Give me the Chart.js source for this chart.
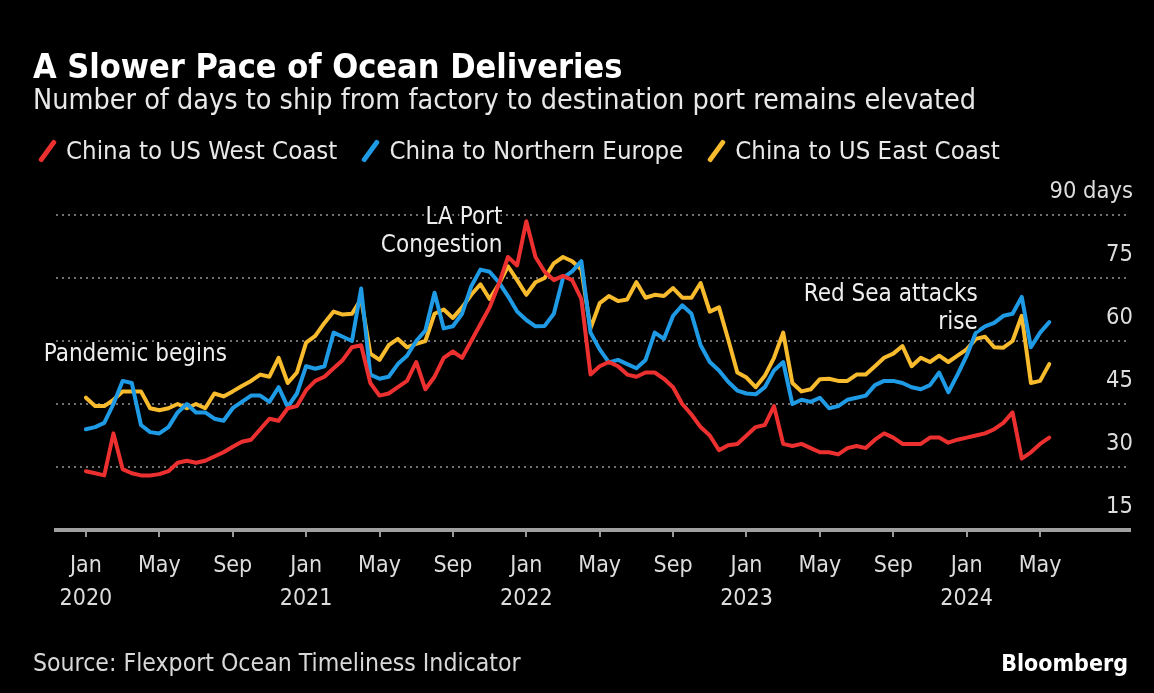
<!DOCTYPE html>
<html>
<head>
<meta charset="utf-8">
<script src="https://cdn.jsdelivr.net/npm/chart.js@4.4.1/dist/chart.umd.min.js"></script>
<style>
  html, body { margin: 0; padding: 0; background: #000; }
  #wrap { position: relative; width: 1154px; height: 693px; background: #000; overflow: hidden;
          font-family: "DejaVu Sans Condensed", "DejaVu Sans", sans-serif; font-stretch: semi-condensed; color: #fff; }
  #c { position: absolute; left: 0; top: 0; }
  .t { position: absolute; white-space: nowrap; line-height: 1; }
  #title { left: 33px; top: 49px; font-size: 34px; font-weight: bold; color: #fff; }
  #subtitle { left: 33px; top: 86px; font-size: 28.5px; color: #e8e8e8; }
  #legend { left: 33px; top: 138px; font-size: 25.6px; color: #e8e8e8; display: flex; align-items: center; }
  .item { display: flex; align-items: center; margin-right: 19px; }
  .sw { display: inline-block; width: 5px; height: 26px; border-radius: 2px; transform: rotate(36deg); margin: 0 16px 0 12px; }
  #source { left: 33px; top: 651px; font-size: 24.6px; color: #d8d8d8; }
  #brand { right: 26px; top: 652px; font-size: 23px; font-weight: bold; color: #fff; }
</style>
</head>
<body>
<div id="wrap">
  <canvas id="c" width="1154" height="693"></canvas>
  <div class="t" id="title">A Slower Pace of Ocean Deliveries</div>
  <div class="t" id="subtitle">Number of days to ship from factory to destination port remains elevated</div>
  <div class="t" id="legend"></div>
  <div class="t" id="source">Source: Flexport Ocean Timeliness Indicator</div>
  <div class="t" id="brand">Bloomberg</div>
</div>
<script>
// ---- data ----
const seriesNames = ['China to US West Coast', 'China to Northern Europe', 'China to US East Coast'];
const seriesColors = ['#ec302f', '#1f9ae4', '#f7bb2d'];

// months since Jan 2020 (half-month steps)
const monthIndex = [
  0, 0.5, 1, 1.5, 2, 2.5, 3, 3.5, 4, 4.5, 5, 5.5, 6, 6.5, 7, 7.5, 8, 8.5, 9, 9.5, 10, 10.5, 11, 11.5,
  12, 12.5, 13, 13.5, 14, 14.5, 15, 15.5, 16, 16.5, 17, 17.5, 18, 18.5, 19, 19.5, 20, 20.5, 21, 21.5, 22, 22.5, 23, 23.5,
  24, 24.5, 25, 25.5, 26, 26.5, 27, 27.5, 28, 28.5, 29, 29.5, 30, 30.5, 31, 31.5, 32, 32.5, 33, 33.5, 34, 34.5, 35, 35.5,
  36, 36.5, 37, 37.5, 38, 38.5, 39, 39.5, 40, 40.5, 41, 41.5, 42, 42.5, 43, 43.5, 44, 44.5, 45, 45.5, 46, 46.5, 47, 47.5,
  48, 48.5, 49, 49.5, 50, 50.5, 51, 51.5, 52, 52.5
];

const westCoast = [
  29, 28.5, 28, 38, 29.5, 28.5, 28, 28, 28.3, 29, 31, 31.5, 31, 31.5, 32.5, 33.5, 34.8, 36, 36.5, 39, 41.5, 41, 44, 44.5,
  48.3, 50.5, 51.5, 53.5, 55.5, 58.5, 59, 50, 47, 47.5, 49, 50.5, 55, 48.5, 51.5, 56, 57.5, 56, 60, 64, 68, 73.5, 80, 78,
  88.5, 80, 76.5, 74.5, 75.5, 74.5, 70, 52, 54, 55, 54, 52, 51.5, 52.5, 52.5, 51, 49, 45, 42.5, 39.5, 37.5, 34, 35.2, 35.5,
  37.5, 39.5, 40, 44.5, 35.5, 35, 35.5, 34.5, 33.5, 33.5, 33, 34.5, 35, 34.5, 36.5, 38, 37, 35.5, 35.5, 35.5, 37, 37, 35.8, 36.5,
  37, 37.5, 38, 39, 40.5, 43, 32, 33.5, 35.5, 37
];

const northEurope = [
  39, 39.5, 40.5, 45, 50.5, 50, 40, 38.3, 38, 39.5, 43, 45, 43, 43, 41.5, 41, 44, 45.5, 47, 47, 45.5, 49, 44.3, 47.5,
  54, 53.4, 54, 62, 61, 60, 72.5, 52, 51, 51.5, 54.5, 56.5, 60, 62.5, 71.5, 63, 63.5, 66.5, 73, 77, 76.5, 74, 70.7, 67,
  65, 63.5, 63.6, 66.5, 75, 76.6, 79, 62, 58, 54.9, 55.5, 54.5, 53.5, 55.5, 62, 60.5, 66, 68.5, 66.5, 59, 55, 53, 50.3, 48.2,
  47.5, 47.3, 49, 53, 55, 45, 46, 45.5, 46.5, 44, 44.5, 46, 46.5, 47, 49.5, 50.5, 50.5, 50, 49, 48.5, 49.5, 52.5, 47.8, 52,
  56.5, 62, 63.5, 64.3, 66, 66.5, 70.5, 58.5, 62, 64.5
];

const eastCoast = [
  46.5, 44.5, 44.5, 46, 48, 48, 48, 44, 43.5, 44, 45, 44, 45, 44, 47.5, 46.8, 48, 49.3, 50.5, 52, 51.5, 56, 50, 52.5,
  59.6, 61.2, 64.3, 67, 66.3, 66.5, 70, 57, 55.5, 59, 60.5, 58.5, 59.3, 60, 66.5, 67.5, 65.5, 68, 71, 73.5, 70, 73.5, 77.8, 74.5,
  71, 74, 75, 78.5, 80, 79, 77, 63, 69, 70.7, 69.5, 69.9, 74, 70.3, 71, 70.7, 72.6, 70.3, 70.3, 73.8, 67, 68, 60.4, 52.5,
  51.3, 49, 51.7, 56, 62, 50, 48, 48.5, 50.9, 51, 50.5, 50.5, 52, 52, 54, 56, 57, 58.8, 54, 56, 55, 56.5, 55, 56.5,
  58, 60.5, 61, 58.5, 58.4, 60, 66, 50, 50.5, 54.5
];

const xTickMonths = [0, 4, 8, 12, 16, 20, 24, 28, 32, 36, 40, 44, 48, 52];
const xTickLabels = [['Jan', '2020'], 'May', 'Sep', ['Jan', '2021'], 'May', 'Sep', ['Jan', '2022'], 'May', 'Sep',
                     ['Jan', '2023'], 'May', 'Sep', ['Jan', '2024'], 'May'];
const yTicks = [15, 30, 45, 60, 75, 90];
const yTickLabels = ['15', '30', '45', '60', '75', '90 days'];

const notes = [
  { lines: ['Pandemic begins'], x: -2.3, y: 56.7, align: 'left' },
  { lines: ['LA Port', 'Congestion'], x: 22.7, y: 89.3, align: 'right' },
  { lines: ['Red Sea attacks', 'rise'], x: 48.6, y: 71.0, align: 'right' }
];

// ---- legend (HTML, from the series arrays) ----
const legendEl = document.getElementById('legend');
seriesNames.forEach((n, i) => {
  const it = document.createElement('span'); it.className = 'item';
  const sw = document.createElement('span'); sw.className = 'sw'; sw.style.background = seriesColors[i];
  const tx = document.createElement('span'); tx.textContent = n;
  it.appendChild(sw); it.appendChild(tx); legendEl.appendChild(it);
});

const FONT = "'DejaVu Sans Condensed', 'DejaVu Sans', sans-serif";

const notesPlugin = {
  id: 'notes',
  afterDatasetsDraw(chart) {
    const { ctx, scales: { x, y } } = chart;
    ctx.save();
    ctx.font = "24px " + FONT;
    ctx.textBaseline = 'middle';
    notes.forEach(n => {
      const px = x.getPixelForValue(n.x);
      const py = y.getPixelForValue(n.y);
      ctx.textAlign = n.align;
      n.lines.forEach((l, k) => {
        const yy = py + k * 28;
        ctx.lineWidth = 5; ctx.strokeStyle = '#000'; ctx.lineJoin = 'round';
        ctx.strokeText(l, px, yy);
        ctx.fillStyle = '#eeeeee';
        ctx.fillText(l, px, yy);
      });
    });
    ctx.restore();
  }
};

const mk = (arr) => monthIndex.map((m, i) => ({ x: m, y: arr[i] }));
const datasets = [westCoast, northEurope, eastCoast].map((arr, i) => ({
  label: seriesNames[i],
  data: mk(arr),
  borderColor: seriesColors[i],
  backgroundColor: seriesColors[i],
  borderWidth: 4,
  pointRadius: 0,
  tension: 0,
  borderJoinStyle: 'round',
  borderCapStyle: 'round'
}));

new Chart(document.getElementById('c'), {
  type: 'line',
  data: { datasets },
  plugins: [notesPlugin],
  options: {
    responsive: false,
    animation: false,
    layout: { padding: { left: 56, right: 24, top: 215, bottom: 63 } },
    plugins: { legend: { display: false }, tooltip: { enabled: false }, title: { display: false } },
    scales: {
      x: {
        type: 'linear', min: -1.63, max: 56.9,
        afterBuildTicks: s => { s.ticks = xTickMonths.map(v => ({ value: v })); },
        afterFit: s => { s.height = 100; },
        grid: { display: true, drawOnChartArea: false, drawTicks: true, tickLength: 7, color: '#9a9a9a', lineWidth: 2 },
        border: { display: true, color: '#a0a0a0', width: 4 },
        ticks: {
          autoSkip: false, maxRotation: 0, padding: 13, color: '#dddddd',
          font: { size: 23, family: FONT, lineHeight: 1.43 },
          callback: (v, i) => xTickLabels[i]
        }
      },
      y: {
        position: 'right', min: 15, max: 90,
        afterBuildTicks: s => { s.ticks = yTicks.map(v => ({ value: v })); },
        afterFit: s => { s.width = 0; },
        grid: { color: '#707070', lineWidth: 2, drawTicks: false },
        border: { display: false, dash: [2, 4] },
        ticks: {
          mirror: true, padding: 3, labelOffset: -23, color: '#dddddd',
          font: { size: 23.5, family: FONT },
          callback: (v, i) => yTickLabels[i]
        }
      }
    }
  }
});
</script>
</body>
</html>
